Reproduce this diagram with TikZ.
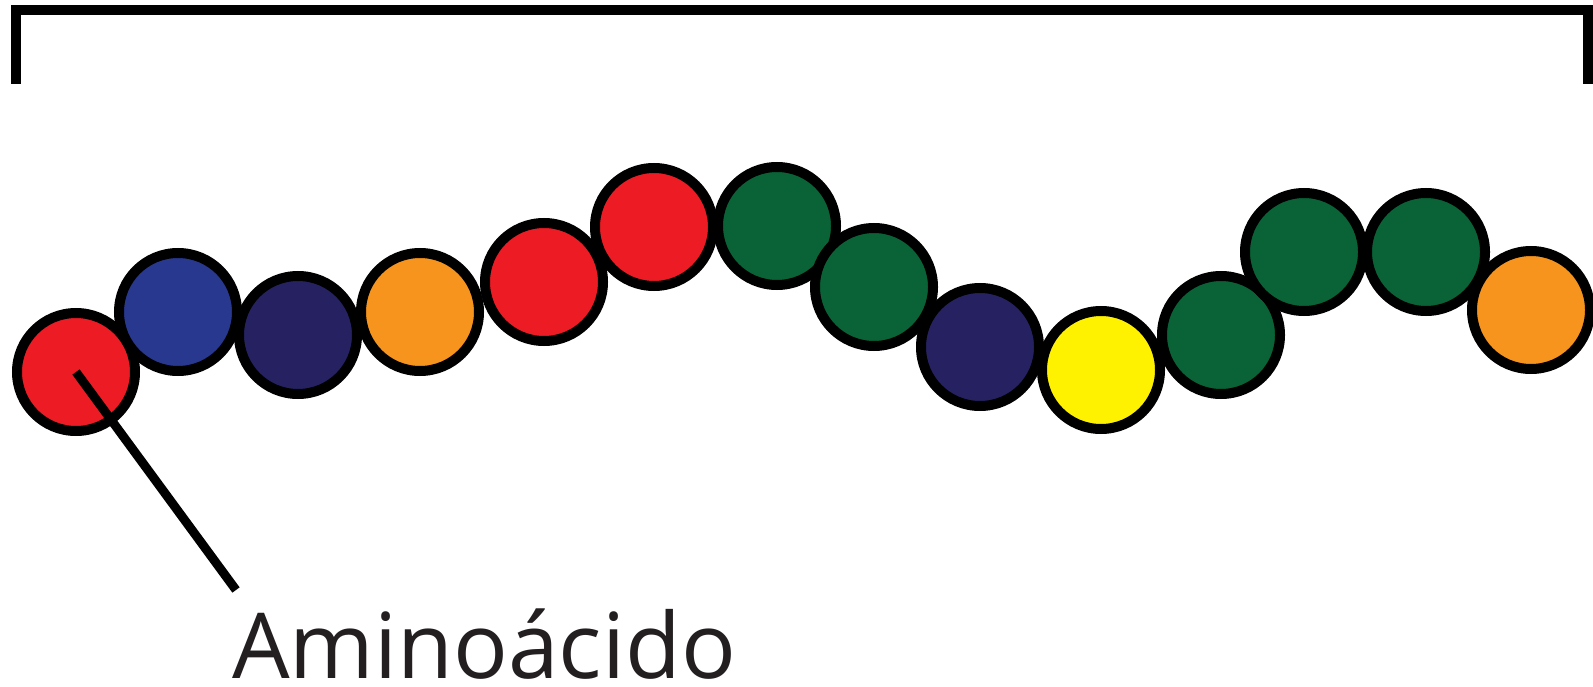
\documentclass[tikz,border=0pt]{standalone}
\usepackage{fontspec}
\setmainfont{Open Sans}
\definecolor{aared}{HTML}{ED1C24}
\definecolor{aablue}{HTML}{29388F}
\definecolor{aanavy}{HTML}{262262}
\definecolor{aaorange}{HTML}{F7941D}
\definecolor{aagreen}{HTML}{0A6337}
\definecolor{aayellow}{HTML}{FFF200}
\definecolor{aatext}{HTML}{231F20}
\tikzset{
  aa/.style={circle, draw=black, line width=10pt, minimum size=118pt, inner sep=0pt, fill=#1},
  bracketline/.style={line width=10pt, line join=miter, draw=black},
  pointer/.style={line width=9pt, draw=black},
  label/.style={anchor=base west, inner sep=0pt, text=aatext, font=\fontsize{91}{91}\selectfont}
}
\begin{document}
\begin{tikzpicture}[x=1pt,y=-1pt]
\useasboundingbox (0,0) rectangle (1593,687);
\fill[white] (0,0) rectangle (1593,687);
\coordinate (bl) at (15.5,84);
\coordinate (br) at (1588,84);
\draw[bracketline] (bl) |- (801,10) -| (br);
\node[aa=aared] (c1) at (76,372) {};
\node[aa=aablue] (c2) at (178,312) {};
\node[aa=aanavy] (c3) at (298,335) {};
\node[aa=aaorange] (c4) at (420,312) {};
\node[aa=aared] (c5) at (544,282) {};
\node[aa=aared] (c6) at (654,227) {};
\node[aa=aagreen] (c7) at (777,226) {};
\node[aa=aagreen] (c8) at (874,287) {};
\node[aa=aanavy] (c9) at (980,347) {};
\node[aa=aayellow] (c10) at (1101,370) {};
\node[aa=aagreen] (c11) at (1221,335) {};
\node[aa=aagreen] (c12) at (1304,252) {};
\node[aa=aagreen] (c13) at (1426,252) {};
\node[aa=aaorange] (c14) at (1531,310) {};
\node[label] (lbl) at (232,678) {Aminoácido};
\coordinate (pend) at (236,590);
\draw[pointer] (c1.center) -- (pend);
\end{tikzpicture}
\end{document}
